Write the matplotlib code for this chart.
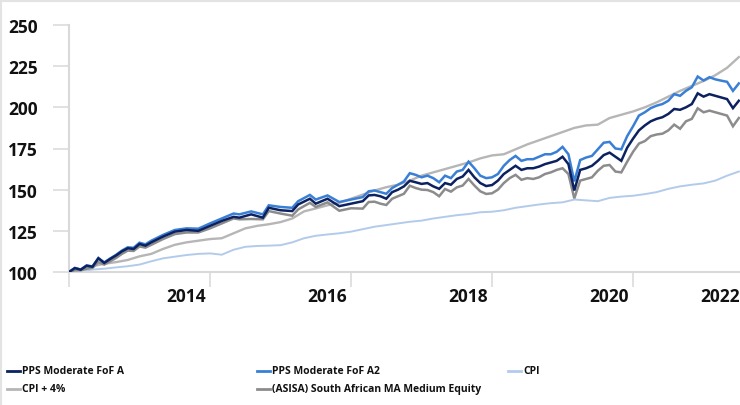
import matplotlib
matplotlib.use("Agg")
import matplotlib.pyplot as plt
from matplotlib.lines import Line2D
from matplotlib.transforms import offset_copy

plt.rcParams['font.family'] = ['Open Sans', 'DejaVu Sans']

# ---------------- data ----------------
months = [0, 1, 2, 3, 4, 5, 6, 7, 8, 9, 10, 11, 12, 13, 14,
          16, 18, 20, 22, 24, 26, 28,
          29, 31, 33, 34, 36, 38, 39, 41, 42, 44, 46, 48, 50] + list(range(51, 115))

pps_a = [100, 102.4, 101.4, 103.8, 103.2, 108.3, 105.5, 107.9, 110, 112.5, 114.4, 114, 117, 116, 118,
         121.5, 124.5, 125.5, 125, 128, 131, 133.5,
         133, 135, 133, 139, 137.5, 137, 141, 144.5, 141.5, 144.5, 140, 141.5, 143,
         146.5, 146.8, 146, 144.5, 148.5, 150, 152, 155.4, 154.5, 153.5, 154, 152, 150.5, 154, 153,
         156.5, 158, 162, 157.5, 154, 152.2, 152.8, 155.5, 159.5, 162, 164.5, 162, 163, 163, 164,
         165.5, 166.5, 167.5, 170, 165.5, 149.5, 162, 163, 164.5, 167.5, 171, 172.5, 170, 167.5,
         175.5, 181, 186, 189, 191.5, 193, 194, 196, 199, 198.5, 200, 202, 208.5, 206.5, 208, 207,
         206, 205, 199.5, 204]

pps_a2 = [100, 102.4, 101.5, 104, 103.4, 108.5, 105.8, 108.2, 110.4, 113, 115, 114.7, 117.8, 116.8, 119,
          122.5, 125.5, 126.5, 126.3, 129.5, 132.5, 135.5,
          135, 136.8, 135, 140.5, 139.5, 139, 143, 146.8, 144, 146.5, 142.5, 144, 145.5,
          149, 149.5, 148.5, 147.5, 151, 153, 155, 160, 159, 157.5, 158.5, 157, 154.5, 158.5, 157,
          161, 162, 167, 163, 158.5, 157, 157.5, 159.5, 164.5, 168, 170.5, 167.5, 168.5, 168.5, 170,
          171.5, 171.5, 173, 176, 171.5, 155, 168, 169.5, 170.5, 174.5, 178.5, 179, 175, 174.5,
          182.5, 188.5, 195, 197, 199.5, 201, 202, 204, 208, 207, 210, 212.2, 218.7, 216.3, 218.3, 217,
          216.2, 215.5, 210, 214.5]

asisa = [100, 101, 101, 102, 102.5, 106, 104.5, 106.5, 108.5, 111, 113, 112.8, 115.5, 114.8, 116.5,
         120, 123, 124, 124, 126.5, 129.5, 132.5,
         132, 132.2, 132, 137, 135.5, 134.2, 138, 142, 139.5, 142.3, 137.2, 138.7, 138.5,
         142.5, 142.7, 141.5, 140.7, 144.5, 146, 147.5, 152.4, 151, 150, 149.8, 148.5, 146, 150.4, 148.8,
         151.4, 152.5, 156.5, 152.5, 149, 147.4, 147.8, 150, 154, 157, 159, 156, 157, 156.5, 157.5,
         159.5, 160.5, 162, 163, 159.5, 144.7, 155.5, 156.5, 157.5, 161.5, 164.5, 165, 161, 160.5,
         167, 173, 178, 179.5, 182.5, 183.5, 184, 186, 189.5, 187, 191.5, 193, 199.4, 197, 198, 197,
         196, 195, 188.5, 193.5]

months_smooth = list(range(0, 115, 2))

cpi_plus4 = [100, 101.5, 103.5, 105, 106, 107.3, 109.5, 111, 114, 116.5, 118, 119,
             120, 120.5, 123.5, 126.5, 128, 129, 130.3, 132.5, 136.8, 138.6,
             140.5, 142, 144.5, 147, 149.5, 151.5, 153, 155.5, 158.5, 160.5,
             162.5, 164.5, 166.5, 169, 170.8, 171.5, 174.5, 177.5, 180, 182.5,
             185, 187.5, 189, 189.5, 193.5, 195.5, 197.5, 200, 203, 206.5,
             210, 213, 216, 219.5, 224, 230.5]

cpi = [100, 100.5, 101.5, 102, 102.8, 103.5, 104.5, 106.5, 108.3, 109.3,
       110.3, 111, 111.3, 110.5, 113.5, 115.3, 115.8, 116, 116.3, 118,
       120.5, 122, 122.8, 123.5, 124.5, 126, 127.5, 128.5, 129.5, 130.5,
       131.2, 132.5, 133.5, 134.5, 135.2, 136.3, 136.6, 137.5, 139, 140,
       141, 141.8, 142.3, 144, 143.5, 143, 145, 145.8, 146.3, 147.3,
       148.5, 150.5, 152, 153, 153.8, 155.5, 158.5, 161]

labels = ["PPS Moderate FoF A", "PPS Moderate FoF A2", "CPI", "CPI + 4%",
          "(ASISA) South African MA Medium Equity"]
xtick_months = [0, 24, 48, 72, 96, 120]
xtick_labels = ["", "2014", "2016", "2018", "2020", "2022"]
yticks = [100, 125, 150, 175, 200, 225, 250]

colors = {"PPS Moderate FoF A": "#0c2260",
          "PPS Moderate FoF A2": "#3a7fd6",
          "CPI": "#b3cbea",
          "CPI + 4%": "#b6b6b6",
          "(ASISA) South African MA Medium Equity": "#8c8c8c"}

# ---------------- figure ----------------
W, H = 740, 406
fig = plt.figure(figsize=(W / 100, H / 100), dpi=100)
ax = fig.add_axes([69 / W, (H - 273) / H, (W - 69) / W, (273 - 26) / H])

series = [
    ("CPI", months_smooth, cpi, 1.4, 2),
    ("CPI + 4%", months_smooth, cpi_plus4, 1.7, 2),
    ("(ASISA) South African MA Medium Equity", months, asisa, 1.8, 3),
    ("PPS Moderate FoF A2", months, pps_a2, 1.8, 4),
    ("PPS Moderate FoF A", months, pps_a, 1.8, 5),
]
for name, xs, ys, lw, z in series:
    ax.plot(xs, ys, color=colors[name], lw=lw, zorder=z, solid_joinstyle='miter')

xmax = 114.2
ax.set_xlim(0, xmax)
ax.set_ylim(100, 250)

axis_col = "#d9d9d9"
for s in ["top", "right"]:
    ax.spines[s].set_visible(False)
for s in ["left", "bottom"]:
    ax.spines[s].set_color(axis_col)
    ax.spines[s].set_linewidth(1.5)

ax.set_yticks(yticks)
ax.set_yticklabels([str(v) for v in yticks])
ax.tick_params(axis='y', length=11.3, width=1.1, color=axis_col, pad=11,
               labelsize=12.5, labelcolor="#111111")
for t in ax.get_yticklabels():
    t.set_fontweight('bold')

ax.set_xticks([m for m in xtick_months if m <= xmax])
ax.set_xticklabels([])
ax.tick_params(axis='x', length=10.5, width=1.1, color=axis_col)

for m, lab in zip(xtick_months, xtick_labels):
    if not lab:
        continue
    if m <= xmax:
        tr = offset_copy(ax.get_xaxis_transform(), fig=fig, x=-4, y=-24, units='dots')
        xpos = m
    else:
        tr = offset_copy(ax.get_xaxis_transform(), fig=fig, x=0, y=-24, units='dots')
        xpos = xmax
    ax.text(xpos, 0, lab, transform=tr, ha='right', va='center', fontsize=12.5,
            fontweight='bold', color="#111111", clip_on=False)

# figure border (top & left)
fig.add_artist(Line2D([0, 1], [1 - 2 / H, 1 - 2 / H], transform=fig.transFigure,
                      color="#e3e3e3", lw=1.5))
fig.add_artist(Line2D([1 / W, 1 / W], [0, 1], transform=fig.transFigure,
                      color="#e3e3e3", lw=1.5))

# legend (row-wise layout, 3 columns)
col_x = [7, 257, 508]
row_y = [372, 390]
for i, name in enumerate(labels):
    r, c = divmod(i, 3)
    x0 = col_x[c]
    y0 = row_y[r]
    fig.add_artist(Line2D([x0 / W, (x0 + 13) / W], [1 - y0 / H, 1 - y0 / H],
                          transform=fig.transFigure, color=colors[name], lw=2))
    fig.text((x0 + 15) / W, 1 - y0 / H, name, ha='left', va='center',
             fontsize=7.5, fontweight='bold', color="#111111")

fig.savefig("out.png", dpi=100)
